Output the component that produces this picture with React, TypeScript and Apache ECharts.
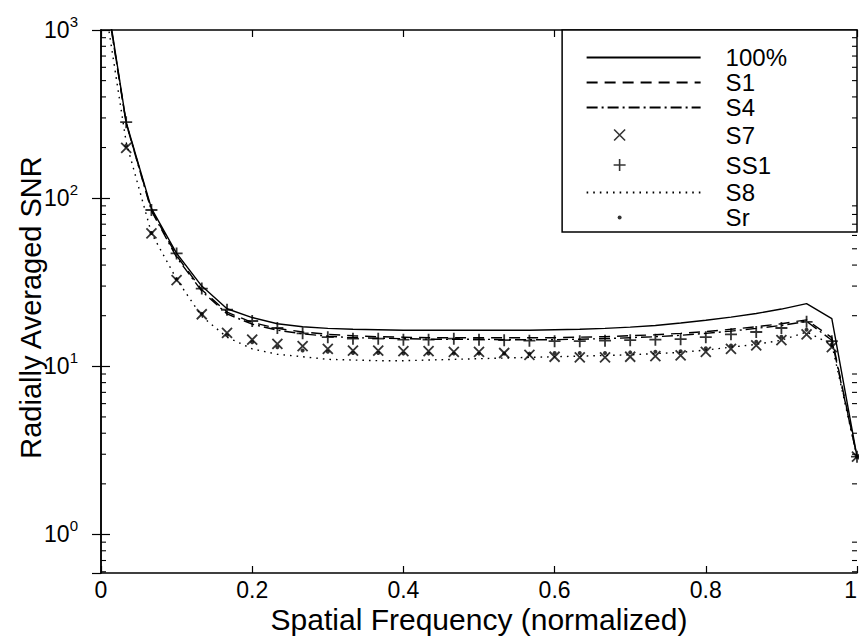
import React, { useEffect, useRef } from "react";
import * as echarts from "echarts";

// Spatial frequency samples (normalized)
const FREQ = [0, 0.0333, 0.0667, 0.1, 0.1333, 0.1667, 0.2, 0.2333, 0.2667, 0.3, 0.3333, 0.3667, 0.4, 0.4333, 0.4667, 0.5, 0.5333, 0.5667, 0.6, 0.6333, 0.6667, 0.7, 0.7333, 0.7667, 0.8, 0.8333, 0.8667, 0.9, 0.9333, 0.9667, 1];

// Radially averaged SNR per scheme
const SNR_100 = [2600, 283, 87, 47, 30, 22, 19.5, 17.9, 17.2, 16.8, 16.6, 16.5, 16.4, 16.4, 16.4, 16.4, 16.4, 16.4, 16.5, 16.6, 16.8, 17.1, 17.5, 18.1, 18.8, 19.6, 20.6, 21.9, 23.6, 19.2, 2.9];
const SNR_S1 = [2500, 280, 85, 45.5, 28.5, 21, 18.2, 16.8, 16.0, 15.5, 15.2, 15.0, 14.9, 14.8, 14.8, 14.8, 14.8, 14.8, 14.8, 14.9, 15.0, 15.2, 15.4, 15.7, 16.1, 16.6, 17.2, 17.9, 18.9, 14.8, 2.9];
const SNR_S4 = [2450, 278, 84, 44.5, 28, 20.5, 17.8, 16.4, 15.6, 15.1, 14.8, 14.7, 14.6, 14.5, 14.5, 14.5, 14.4, 14.4, 14.4, 14.5, 14.6, 14.8, 15.0, 15.3, 15.7, 16.2, 16.8, 17.5, 18.5, 14.3, 2.9];
const SNR_S7 = [1800, 199, 61.7, 32.5, 20.4, 15.8, 14.4, 13.6, 13.2, 12.7, 12.4, 12.4, 12.3, 12.3, 12.2, 12.2, 12.0, 11.7, 11.4, 11.3, 11.3, 11.4, 11.5, 11.6, 12.2, 12.7, 13.3, 14.3, 15.5, 13.0, 2.9];
const SNR_SS1 = [2500, 283, 85, 46.9, 29, 21.7, 18.6, 16.9, 15.7, 14.9, 14.6, 14.6, 14.4, 14.4, 14.6, 14.4, 14.3, 14.2, 14.1, 14.1, 14.2, 14.3, 14.4, 14.5, 14.9, 15.5, 16.0, 16.9, 18.4, 14.1, 2.9];
const SNR_S8 = [2000, 215, 62, 33, 19.8, 14.9, 12.7, 11.8, 11.4, 11.0, 10.9, 10.8, 10.8, 10.9, 11.0, 11.1, 11.2, 11.3, 11.4, 11.5, 11.6, 11.7, 11.9, 12.1, 12.5, 13.0, 13.5, 14.3, 16.0, 13.5, 2.9];
const SNR_SR = [1900, 205, 62, 33, 20.5, 15.3, 13.9, 13.0, 12.4, 12.2, 12.0, 12.0, 11.9, 11.9, 11.9, 11.9, 11.9, 11.9, 12.0, 12.0, 12.0, 12.1, 12.2, 12.3, 12.8, 13.3, 14.0, 15.0, 16.5, 13.5, 2.9];

// Axis ticks
const X_TICKS = [0, 0.2, 0.4, 0.6, 0.8, 1];
const Y_MIN = 0.59;
const Y_MAX = 1000;
const Y_MINOR_TICKS = [0.6, 0.7, 0.8, 0.9, 2, 3, 4, 5, 6, 7, 8, 9, 20, 30, 40, 50, 60, 70, 80, 90, 200, 300, 400, 500, 600, 700, 800, 900];

const FONT = "'Liberation Sans', Arial, Helvetica, sans-serif";

const CROSS = "path://M0,0L10,10M10,0L0,10";
const PLUS = "path://M5,0L5,10M0,5L10,5";
const LEG_CROSS = "path://M0,0L0,0M114,25L114,25M27.5,7L38.5,18M38.5,7L27.5,18";
const LEG_PLUS = "path://M0,0L0,0M114,25L114,25M33,6.5L33,18.5M27,12.5L39,12.5";
const LEG_DOT = "path://M0,0L0,0M114,25L114,25M31,12.5A2,2,0,1,1,35,12.5A2,2,0,1,1,31,12.5Z";

const pairs = (ys: number[]) => FREQ.map((f, i) => [f, ys[i]]);

export default function App() {
  const ref = useRef<HTMLDivElement>(null);

  useEffect(() => {
    if (!ref.current) return;
    const chart = echarts.init(ref.current, undefined, { renderer: "svg" });

    const lineSeries = (name: string, ys: number[], type: any) => ({
      name,
      type: "line",
      data: pairs(ys),
      symbol: "none",
      color: "#000",
      lineStyle: { color: "#000", width: 1.4, type },
      z: 3,
    });
    const markSeries = (name: string, ys: number[], symbol: string, size: number, filled: boolean) => ({
      name,
      type: "scatter",
      data: pairs(ys),
      symbol,
      symbolSize: size,
      color: "#000",
      itemStyle: filled
        ? { color: "#000" }
        : { color: "none", borderColor: "#000", borderWidth: 1.8 },
      z: 4,
    });

    const yLabel = (v: number) => {
      const e = Math.round(Math.log10(v));
      return `{b|10}{s|${e}}`;
    };

    const baseAxisLine = { show: true, lineStyle: { color: "#000", width: 1.5 } };

    chart.setOption({
      animation: false,
      backgroundColor: "#fff",
      textStyle: { fontFamily: FONT, color: "#000" },
      grid: { left: 101, right: 2, top: 30, bottom: 66, containLabel: false, outerBoundsMode: "none" },
      legend: {
        orient: "vertical",
        right: 2,
        top: 30,
        padding: [15, 70, 2, 22],
        itemWidth: 114,
        itemHeight: 25,
        itemGap: 0,
        selectedMode: false,
        backgroundColor: "#fff",
        borderColor: "#000",
        borderWidth: 1.5,
        borderRadius: 0,
        textStyle: { fontSize: 24, color: "#000", fontFamily: FONT, lineHeight: 25, padding: [0, 0, 0, 20] },
        data: [
          { name: "100%", itemStyle: { opacity: 0 } },
          { name: "S1", itemStyle: { opacity: 0 } },
          { name: "S4", itemStyle: { opacity: 0 } },
          { name: "S7", icon: LEG_CROSS, itemStyle: { color: "none", borderColor: "#000", borderWidth: 1.6 } },
          { name: "SS1", icon: LEG_PLUS, itemStyle: { color: "none", borderColor: "#000", borderWidth: 1.6 } },
          { name: "S8", itemStyle: { opacity: 0 } },
          { name: "Sr", icon: LEG_DOT, itemStyle: { color: "#000", borderWidth: 0 } },
        ],
      },
      xAxis: [
        {
          type: "value",
          position: "bottom",
          min: X_TICKS[0],
          max: X_TICKS[X_TICKS.length - 1],
          interval: 0.2,
          axisLine: baseAxisLine,
          axisTick: { show: true, inside: true, length: 7, lineStyle: { color: "#000", width: 1.2 } },
          axisLabel: {
            fontSize: 23,
            lineHeight: 20,
            color: "#000",
            margin: 7,
            fontFamily: FONT,
            alignMaxLabel: "right",
            formatter: (v: number) => String(+v.toFixed(1)),
          },
          splitLine: { show: false },
          name: "Spatial Frequency (normalized)",
          nameLocation: "middle",
          nameGap: 32,
          nameMoveOverlap: false,
          nameTextStyle: { fontSize: 30, lineHeight: 28, color: "#000", fontFamily: FONT },
        },
        {
          type: "value",
          position: "top",
          min: X_TICKS[0],
          max: X_TICKS[X_TICKS.length - 1],
          interval: 0.2,
          axisLine: baseAxisLine,
          axisTick: { show: true, inside: true, length: 7, lineStyle: { color: "#000", width: 1.2 } },
          axisLabel: { show: false },
          splitLine: { show: false },
        },
      ],
      yAxis: [
        {
          type: "log",
          logBase: 10,
          position: "left",
          min: Y_MIN,
          max: Y_MAX,
          axisLine: baseAxisLine,
          axisTick: { show: true, inside: true, length: 9, lineStyle: { color: "#000", width: 1.2 } },
          axisLabel: {
            showMinLabel: false,
            margin: 23,
            color: "#000",
            formatter: yLabel,
            rich: {
              b: { fontSize: 23, lineHeight: 32, fontFamily: FONT, color: "#000" },
              s: { fontSize: 15, lineHeight: 15, verticalAlign: "top", fontFamily: FONT, color: "#000" },
            },
          },
          splitLine: { show: false },
          name: "Radially Averaged SNR",
          nameLocation: "middle",
          nameGap: 56,
          nameMoveOverlap: false,
          nameTextStyle: { fontSize: 29, color: "#000", fontFamily: FONT, padding: [0, 12, 0, 0] },
        },
        {
          type: "log",
          logBase: 10,
          position: "right",
          min: Y_MIN,
          max: Y_MAX,
          axisLine: baseAxisLine,
          axisTick: { show: true, inside: true, length: 9, lineStyle: { color: "#000", width: 1.2 } },
          axisLabel: { show: false },
          splitLine: { show: false },
        },
      ],
      series: [
        lineSeries("100%", SNR_100, "solid"),
        lineSeries("S1", SNR_S1, [11, 7]),
        lineSeries("S4", SNR_S4, [11, 4, 2, 4]),
        markSeries("S7", SNR_S7, CROSS, 10, false),
        markSeries("SS1", SNR_SS1, PLUS, 12, false),
        lineSeries("S8", SNR_S8, [1.6, 5]),
        markSeries("Sr", SNR_SR, "circle", 4, true),
        {
          name: "minorTicks",
          type: "custom",
          silent: true,
          clip: false,
          data: Y_MINOR_TICKS.map((v) => [0, v]),
          encode: { x: 0, y: 1 },
          renderItem: (_params: any, api: any) => {
            const v = api.value(1);
            const pl = api.coord([X_TICKS[0], v]);
            const pr = api.coord([X_TICKS[X_TICKS.length - 1], v]);
            const st = { stroke: "#000", lineWidth: 1.1 };
            return {
              type: "group",
              children: [
                { type: "line", shape: { x1: pl[0], y1: pl[1], x2: pl[0] + 5, y2: pl[1] }, style: st },
                { type: "line", shape: { x1: pr[0], y1: pr[1], x2: pr[0] - 5, y2: pr[1] }, style: st },
              ],
            };
          },
          z: 5,
        },
      ],
    });

    return () => chart.dispose();
  }, []);

  return (
    <div
      ref={ref}
      style={{ position: "absolute", left: 0, top: 0, width: 859, height: 639, background: "#fff" }}
    />
  );
}
